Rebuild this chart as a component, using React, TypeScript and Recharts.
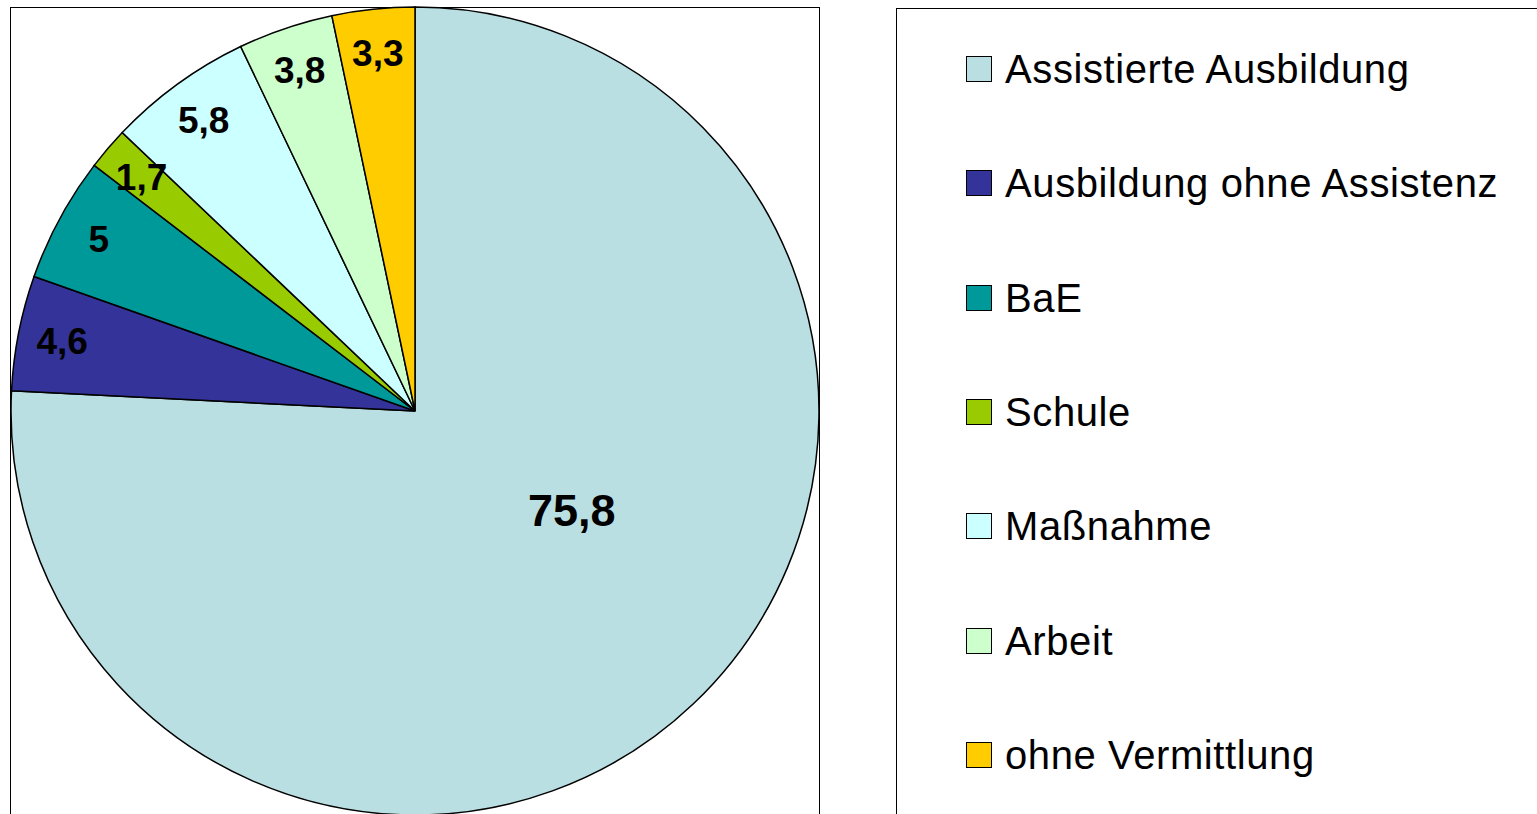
import React from 'react';
import { PieChart, Pie, Cell, Legend } from 'recharts';

const categories = [
  'Assistierte Ausbildung',
  'Ausbildung ohne Assistenz',
  'BaE',
  'Schule',
  'Maßnahme',
  'Arbeit',
  'ohne Vermittlung',
];
const shares = [75.8, 4.6, 5, 1.7, 5.8, 3.8, 3.3];
const colors = ['#B9DFE2', '#333399', '#009999', '#99CC00', '#CCFFFF', '#CCFFCC', '#FFCC00'];

const data = categories.map((name, i) => ({ name, value: shares[i] }));

const FONT = '"Liberation Sans", Arial, sans-serif';
const RADIAN = Math.PI / 180;

const renderLabel = (props: any) => {
  const { cx, cy, midAngle, outerRadius, value, percent } = props;
  const big = percent > 0.5;
  // Excel puts the big label a bit off the bisector
  const angle = big ? midAngle + 14 : midAngle;
  const r = big ? outerRadius * 0.46 : outerRadius * 0.89;
  const x = cx + r * Math.cos(-angle * RADIAN);
  const y = cy + r * Math.sin(-angle * RADIAN);
  return (
    <text
      x={x}
      y={y}
      fill="#000"
      textAnchor="middle"
      dominantBaseline="central"
      fontFamily={FONT}
      fontWeight="bold"
      fontSize={big ? 45 : 37}
    >
      {String(value).replace('.', ',')}
    </text>
  );
};

const LegendBox = () => (
  <div style={{ fontFamily: FONT, fontSize: 40, letterSpacing: 0.6, color: '#000' }}>
    {categories.map((name, i) => (
      <div key={name} style={{ height: 114.33, display: 'flex', alignItems: 'center' }}>
        <span
          style={{
            display: 'inline-block',
            width: 24,
            height: 24,
            background: colors[i],
            border: '1.5px solid #000',
            marginRight: 13,
          }}
        />
        <span style={{ whiteSpace: 'nowrap', lineHeight: 1 }}>{name}</span>
      </div>
    ))}
  </div>
);

const App: React.FC = () => {
  return (
    <div
      style={{
        position: 'absolute',
        left: 0,
        top: 0,
        width: 1537,
        height: 814,
        overflow: 'hidden',
        background: '#fff',
      }}
    >
      <div
        style={{
          position: 'absolute',
          left: 10,
          top: 7,
          width: 810,
          height: 840,
          border: '1.5px solid #000',
          boxSizing: 'border-box',
        }}
      />
      <div
        style={{
          position: 'absolute',
          left: 896,
          top: 8,
          width: 700,
          height: 840,
          border: '1.5px solid #000',
          boxSizing: 'border-box',
        }}
      />
      <div style={{ position: 'absolute', left: 0, top: 0 }}>
        <PieChart width={1537} height={814} margin={{ top: 0, right: 0, bottom: 0, left: 0 }}>
          <Pie
            data={data}
            dataKey="value"
            nameKey="name"
            cx={415}
            cy={411}
            outerRadius={404}
            startAngle={90}
            endAngle={-270}
            stroke="#000"
            strokeWidth={1.5}
            labelLine={false}
            label={renderLabel}
            isAnimationActive={false}
          >
            {data.map((entry, index) => (
              <Cell key={`cell-${index}`} fill={colors[index]} />
            ))}
          </Pie>
          <Legend
            layout="vertical"
            align="right"
            verticalAlign="middle"
            content={() => <LegendBox />}
            wrapperStyle={{ position: 'absolute', left: 966, top: 12, width: 570 }}
          />
        </PieChart>
      </div>
    </div>
  );
};

export default App;
